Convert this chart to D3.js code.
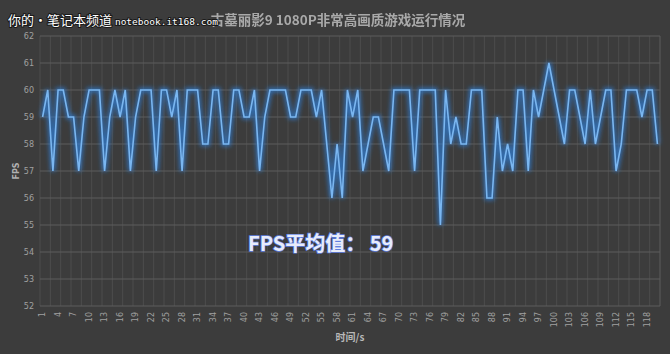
<!DOCTYPE html>
<meta charset="utf-8" />
<script src="https://d3js.org/d3.v7.js"></script>
<style>
  body { margin: 0; background: #3c3c3c; }
</style>
<div id="chart"></div>
<script>
  // fps per second
  const fps = [
    59, 60, 57, 60, 60, 59, 59, 57, 59, 60,
    60, 60, 57, 59, 60, 59, 60, 57, 59, 60,
    60, 60, 57, 60, 60, 59, 60, 57, 60, 60,
    60, 58, 58, 60, 60, 58, 58, 60, 60, 59,
    59, 60, 57, 59, 60, 60, 60, 60, 59, 59,
    60, 60, 60, 59, 60, 58, 56, 58, 56, 60,
    59, 60, 57, 58, 59, 59, 58, 57, 60, 60,
    60, 60, 57, 60, 60, 60, 60, 55, 60, 58,
    59, 58, 58, 60, 60, 60, 56, 56, 59, 57,
    58, 57, 60, 60, 57, 60, 59, 60, 61, 60,
    59, 58, 60, 60, 59, 58, 60, 58, 59, 60,
    60, 57, 58, 60, 60, 60, 59, 60, 60, 58
  ];
  const seconds = fps.map((d, i) => i + 1);
  const xTickLabels = seconds.filter((d) => (d - 1) % 3 === 0);
  const yTicks = [52, 53, 54, 55, 56, 57, 58, 59, 60, 61, 62];

  const title = "古墓丽影9 1080P非常高画质游戏运行情况";
  const watermark = "你的•笔记本频道";
  const watermarkUrl = "notebook.it168.com";
  const avgLabel = "FPS平均值： 59";

  const width = 670;
  const height = 354;
  const margin = { left: 40, right: 10, top: 36, bottom: 48 };

  const svg = d3
    .select("#chart")
    .append("svg")
    .attr("width", width)
    .attr("height", height)
    .style("display", "block");

  svg
    .append("rect")
    .attr("width", width)
    .attr("height", height)
    .attr("fill", "#3c3c3c");

  const defs = svg.append("defs");
  defs
    .append("filter")
    .attr("id", "glow")
    .attr("x", "-5%")
    .attr("y", "-20%")
    .attr("width", "110%")
    .attr("height", "140%")
    .append("feGaussianBlur")
    .attr("stdDeviation", 2);
  defs
    .append("filter")
    .attr("id", "soft")
    .append("feGaussianBlur")
    .attr("stdDeviation", 0.4);

  const x = d3
    .scaleBand()
    .domain(seconds)
    .range([margin.left, width - margin.right])
    .paddingInner(0)
    .paddingOuter(0);

  const y = d3
    .scaleLinear()
    .domain([52, 62])
    .range([height - margin.bottom, margin.top]);

  // vertical grid, every 2 categories
  svg
    .append("g")
    .selectAll("line")
    .data(seconds.filter((d) => d % 2 === 1))
    .join("line")
    .attr("x1", (d) => x(d))
    .attr("x2", (d) => x(d))
    .attr("y1", y(62))
    .attr("y2", y(52))
    .attr("stroke", "#4d4d4d")
    .attr("stroke-width", 1);

  // horizontal grid
  svg
    .append("g")
    .selectAll("line")
    .data(yTicks)
    .join("line")
    .attr("x1", margin.left)
    .attr("x2", width - margin.right)
    .attr("y1", (d) => y(d))
    .attr("y2", (d) => y(d))
    .attr("stroke", "#5c5c5c")
    .attr("stroke-width", 1);

  // right border of plot
  svg
    .append("line")
    .attr("x1", width - margin.right)
    .attr("x2", width - margin.right)
    .attr("y1", y(62))
    .attr("y2", y(52))
    .attr("stroke", "#5c5c5c");

  // y axis
  const yAxis = svg
    .append("g")
    .attr("transform", "translate(" + (margin.left - 6) + ",0)")
    .call(d3.axisLeft(y).tickValues(yTicks).tickSize(0).tickPadding(0));
  yAxis.select(".domain").remove();
  yAxis
    .selectAll("text")
    .attr("fill", "#a0a0a0")
    .style("font-family", "'DejaVu Sans', sans-serif")
    .style("font-size", "8px");

  // x axis, labels rotated
  const xAxis = svg
    .append("g")
    .attr("transform", "translate(0," + (y(52) + 6) + ")")
    .call(d3.axisBottom(x).tickValues(xTickLabels).tickSize(0).tickPadding(0));
  xAxis.select(".domain").remove();
  xAxis
    .selectAll("text")
    .attr("fill", "#a0a0a0")
    .style("font-family", "'DejaVu Sans', sans-serif")
    .style("font-size", "8px")
    .attr("text-anchor", "end")
    .attr("dy", "0.32em")
    .attr("dx", 0)
    .attr("y", 0)
    .attr("x", 0)
    .attr("transform", "rotate(-90)");

  // axis titles
  svg
    .append("text")
    .attr("transform", "translate(19," + (margin.top + (y(52) - y(62)) / 2) + ") rotate(-90)")
    .attr("text-anchor", "middle")
    .attr("fill", "#b0b0b0")
    .style("font-family", "'DejaVu Sans', sans-serif")
    .style("font-weight", "bold")
    .style("font-size", "8px")
    .text("FPS");

  svg
    .append("text")
    .attr("x", (margin.left + width - margin.right) / 2)
    .attr("y", 341)
    .attr("text-anchor", "middle")
    .attr("fill", "#b8b8b8")
    .style("font-family", "'Noto Sans CJK SC', sans-serif")
    .style("font-weight", "bold")
    .style("font-size", "10px")
    .text("时间/s");

  // line with glow
  const line = d3
    .line()
    .x((d, i) => x(seconds[i]) + x.bandwidth() / 2)
    .y((d) => y(d));

  svg
    .append("path")
    .datum(fps)
    .attr("d", line)
    .attr("fill", "none")
    .attr("stroke", "#2f7fd8")
    .attr("stroke-width", 5)
    .attr("stroke-opacity", 0.7)
    .attr("stroke-linejoin", "miter")
    .attr("filter", "url(#glow)");

  svg
    .append("path")
    .datum(fps)
    .attr("d", line)
    .attr("fill", "none")
    .attr("stroke", "#7ab6f0")
    .attr("stroke-width", 1.6)
    .attr("stroke-linejoin", "miter");

  // average label
  svg
    .append("text")
    .attr("x", 248)
    .attr("y", 251)
    .attr("fill", "#e8ecfa")
    .attr("stroke", "#5f7fe0")
    .attr("stroke-width", 1.4)
    .attr("paint-order", "stroke")
    .style("font-family", "'Noto Sans CJK SC', sans-serif")
    .style("font-weight", "bold")
    .style("font-size", "20px")
    .text(avgLabel);

  // title
  svg
    .append("text")
    .attr("x", 338)
    .attr("y", 25)
    .attr("text-anchor", "middle")
    .attr("fill", "#a9a9a9")
    .attr("filter", "url(#soft)")
    .style("font-family", "'Noto Sans CJK SC', sans-serif")
    .style("font-weight", "bold")
    .style("font-size", "13.5px")
    .text(title);

  // watermark
  const wm = svg
    .append("text")
    .attr("x", 8)
    .attr("y", 25)
    .attr("fill", "#ffffff")
    .attr("stroke", "#1a1a1a")
    .attr("stroke-width", 2)
    .attr("paint-order", "stroke");
  wm.append("tspan")
    .style("font-family", "'Noto Sans CJK SC', sans-serif")
    .style("font-size", "13px")
    .text(watermark + " ");
  wm.append("tspan")
    .style("font-family", "'DejaVu Sans Mono', monospace")
    .style("font-size", "9.5px")
    .text(watermarkUrl);
</script>
